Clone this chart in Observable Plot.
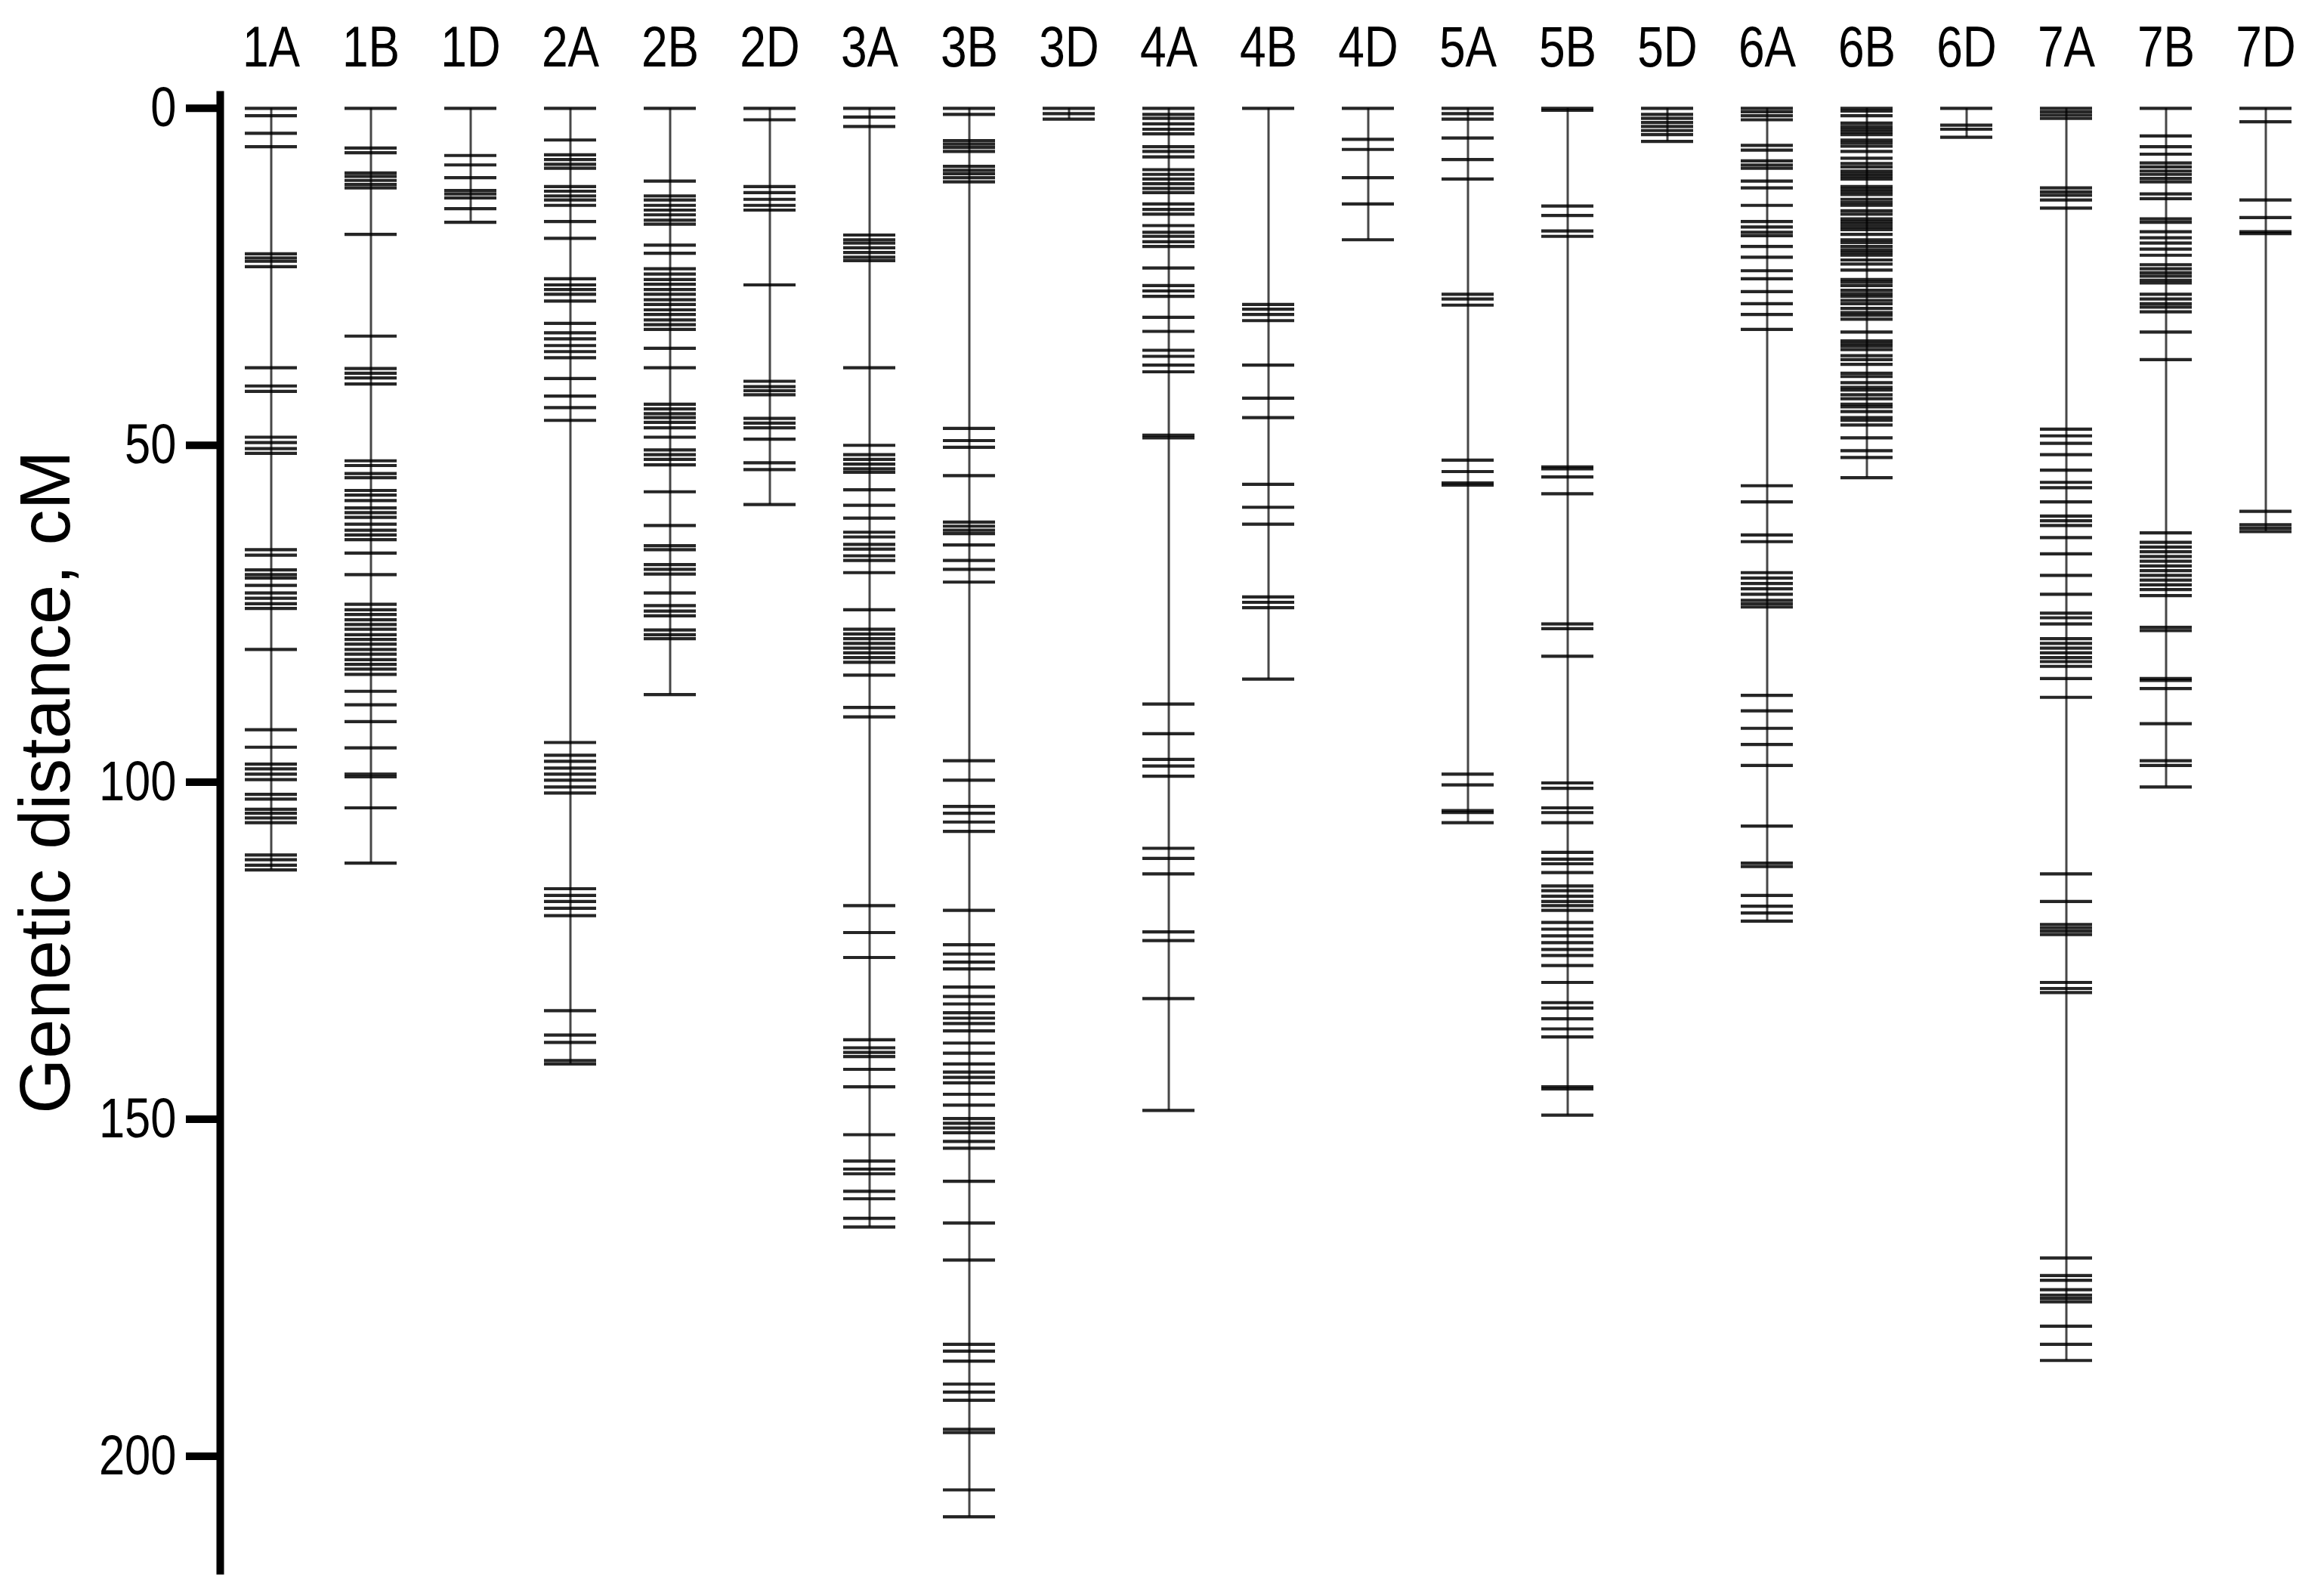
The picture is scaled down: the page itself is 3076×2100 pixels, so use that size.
<!DOCTYPE html>
<html><head><meta charset="utf-8">
<script src="https://cdn.jsdelivr.net/npm/d3@7"></script>
<script src="https://cdn.jsdelivr.net/npm/@observablehq/plot@0.6"></script>
<style>body{margin:0;background:#fff}</style>
</head><body><div id="chart"></div>
<script>
const chromosomes = ["1A","1B","1D","2A","2B","2D","3A","3B","3D","4A","4B","4D","5A","5B","5D","6A","6B","6D","7A","7B","7D"];
const yTicks = [0, 50, 100, 150, 200];
const yTitle = "Genetic distance, cM";

const m1A = [0,1.1,3.7,5.7,21.6,22.2,22.7,23.5,38.5,41.2,42,48.8,49.6,50.5,51.2,65.5,66.3,68.5,69.2,69.7,70.8,71.9,72.7,73.5,74.2,80.3,92.2,94.8,97.3,98,98.8,99.6,101.8,102.5,104,104.6,105.3,106,110.8,111.5,112.3,113];
const m1B = [0,5.9,6.6,9.6,10.1,10.7,11.3,11.8,18.7,33.8,38.6,39.3,40,40.9,52.3,53,54.2,54.8,56.7,57.4,58.2,59.3,60,60.7,61.7,62.6,63.3,64,66,69.2,73.6,74.4,75.1,75.9,76.6,77.3,78.1,78.8,79.5,80.3,81,81.8,82.5,83.2,84,86.5,88.5,91,94.9,98.8,99.2,103.8,112];
const m1D = [0,7,8.4,10.3,12.2,12.7,13.3,14.9,16.9];
const m2A = [0,4.7,6.9,7.6,8.3,8.9,11.6,12.3,13,13.6,14.4,16.8,19.3,25.3,26.2,26.9,27.6,28.6,31.9,33.3,34.2,35.2,36.1,37,40.1,42.7,44.4,46.3,94.1,96,96.9,97.9,98.8,99.7,100.7,101.6,115.8,116.8,117.7,118.7,119.8,133.9,137.5,138.6,141.3,141.8];
const m2B = [0,10.8,13,13.6,14.4,15.1,15.8,16.6,17.2,20.3,21.5,23.8,24.6,25.4,26.1,26.9,27.6,28.4,29.1,29.9,30.6,31.4,32.1,32.8,35.6,38.5,43.9,44.6,45.3,45.9,46.6,47.4,48.8,50.7,51.4,52.1,52.9,56.9,61.9,64.9,65.5,67.7,68.4,69.1,71.9,73.8,74.6,75.3,77.4,78.1,78.7,87];
const m2D = [0,1.7,11.6,12.5,13.5,14.4,15.1,26.2,40.5,41.3,41.9,42.5,46,46.7,47.4,49.1,52.6,53.6,58.8];
const m3A = [0,1.3,2.7,18.8,19.5,20,20.7,21.4,22.1,22.6,38.5,50,51.4,52.1,52.8,53.5,54,56.6,58.9,60.8,62.9,63.6,64.7,65.4,66.4,67.1,68.9,74.4,77.3,78,78.7,79.4,80.1,80.8,81.5,82.2,84.1,88.9,90.3,118.3,122.3,126,138.2,139.4,140.1,140.7,142.6,145.2,152.3,156.2,157.4,158.1,160.7,161.8,164.7,166];
const m3B = [0,0.9,4.8,5.3,5.8,6.4,8.6,9.2,9.7,10.3,10.9,47.5,49.3,50.3,54.5,61.4,62,62.6,63.1,64.8,67.1,68.4,70.3,96.8,99.7,103.6,104.6,105.9,107.3,119,124.1,125.5,126.7,127.7,130.4,131.8,132.9,134.2,135,135.8,136.9,138.7,140.2,141.8,143,143.8,144.6,146.3,147.9,149.9,150.6,151.3,152,153.3,154.3,159.2,165.4,170.9,183.4,184.4,185.9,189.3,190.5,191.7,196,196.5,205,209];
const m3D = [0,0.8,1.6];
const m4A = [0,0.9,1.5,2.3,3.1,3.8,5.7,6.4,7.2,9.1,9.8,10.5,11.2,11.9,12.5,14.2,15,15.7,17.4,18.4,19,19.8,20.5,23.7,26.3,27.1,27.9,31,33.1,35.9,36.8,38.1,39.1,48.5,48.9,88.4,92.8,96.6,97.6,99.1,109.8,111.3,113.6,122.2,123.5,132.1,148.7];
const m4B = [0,29.1,29.8,30.6,31.5,38.1,43,45.9,55.8,59.2,61.7,72.5,73.3,74.1,84.7];
const m4D = [0,4.6,6.1,10.3,14.2,19.5];
const m5A = [0,0.8,1.6,4.4,7.6,10.5,27.6,28.3,29.2,52.2,53.9,55.6,55.9,98.8,100.4,104.2,104.5,106];
const m5B = [0,0.3,14.5,15.9,18.2,19,53.2,53.5,54.7,57.2,76.5,77.2,81.3,100.1,100.9,103.8,104.5,106,110.4,111.4,112.1,113.4,115.4,116.1,116.9,117.7,118.3,119,120.8,121.8,122.8,123.8,124.8,125.7,127.2,129.7,132.7,133.5,135.1,136.6,137.8,145.2,145.5,149.4];
const m5D = [0,0.9,1.5,2.1,2.7,3.3,3.9,4.9];
const m6A = [0,0.5,1.1,1.7,5.5,6.2,7.8,8.4,8.9,10.8,11.8,14.4,16.8,17.6,18.4,18.9,20.5,22.1,24.1,25.3,27.2,29,30.6,32.8,56,58.4,63.3,64.3,68.9,69.7,70.5,71.3,72.1,73,73.5,74,87.1,89.4,92,94.4,97.5,106.5,112,112.5,116.8,118.4,119.4,120.6];
const m6B = [0,0.4,1.1,2.2,2.7,3.1,3.5,3.9,4.7,5.1,5.6,6.4,7.4,8.2,8.7,9.3,9.7,10.1,10.5,11.6,12,12.4,12.8,13.5,14,14.4,15.2,15.7,16.4,16.8,17.2,17.6,18,18.7,19.5,19.9,20.5,21,21.4,21.8,22.5,23.1,24,25.4,25.8,26.3,27,27.5,27.9,28.5,29,29.7,30.3,30.7,31.3,33.2,34.5,34.9,35.3,35.8,36.7,37.3,38,39.3,39.8,40.7,41.4,41.8,42.5,43.1,43.9,44.3,45,45.9,46.3,47,48.9,50.8,51.8,54.8];
const m6D = [0,2.5,3.1,4.3];
const m7A = [0,0.5,1,1.5,11.8,12.4,12.9,13.6,14.8,47.6,48.6,49.7,51.4,53.7,55.5,56.3,58.4,60.5,61.2,61.9,63.7,66.1,69.3,72.1,74.9,75.6,76.5,78.7,79.4,80.1,80.8,81.5,82.1,82.8,84.6,87.4,113.6,117.7,121.1,121.6,122.1,122.6,129.7,130.6,131.2,170.6,173.2,173.9,175.3,176.1,176.6,177.1,180.7,183.4,185.8];
const m7B = [0,4.1,5.7,6.8,8.1,8.7,9.3,9.8,10.4,10.9,12.7,13.4,16.4,16.9,18.3,19.2,20,20.9,21.8,23.2,23.8,24.4,24.9,25.5,25.9,27.6,28.3,29,29.5,30.2,33.2,37.3,63,64.4,65.1,65.8,66.5,67.2,67.9,68.6,69.3,70,70.7,71.4,72.3,77,77.5,84.6,84.9,86.1,91.3,96.8,97.5,100.7];
const m7D = [0,2,13.6,16.2,18.3,18.6,59.8,61.8,62.3,62.8];

const markerSets = [m1A,m1B,m1D,m2A,m2B,m2D,m3A,m3B,m3D,m4A,m4B,m4D,m5A,m5B,m5D,m6A,m6B,m6D,m7A,m7B,m7D];
const markers = chromosomes.flatMap((c, i) => markerSets[i].map(cM => ({chromosome: c, cM})));
const spans = chromosomes.map((c, i) => ({chromosome: c, start: d3.min(markerSets[i]), end: d3.max(markerSets[i])}));

const sans = "'Liberation Sans', Arial, sans-serif";

const chart = Plot.plot({
  width: 3076,
  height: 2100,
  marginLeft: 291,
  marginRight: 10,
  marginTop: 125,
  marginBottom: 22,
  style: {fontFamily: sans, background: "#fff", color: "#000"},
  x: {type: "band", domain: chromosomes, paddingInner: 0.478, paddingOuter: 0.239, axis: null},
  y: {domain: [-2, 217], reverse: true, axis: null},
  marks: [
    Plot.frame({anchor: "left", stroke: "#000", strokeWidth: 10}),
    Plot.axisY({ticks: yTicks, tickSize: 45, tickPadding: 13, strokeWidth: 10, fontSize: 75, label: null, tickFormat: d => String(d)}),
    Plot.axisX({anchor: "top", tickSize: 0, tickPadding: 38, fontSize: 76, label: null}),
    Plot.ruleX(spans, {x: "chromosome", y1: "start", y2: "end", stroke: "#000", strokeOpacity: 0.72, strokeWidth: 3}),
    Plot.tickY(markers, {x: "chromosome", y: "cM", stroke: "#000", strokeWidth: 4.2, strokeOpacity: 0.85}),
    Plot.text([yTitle], {frameAnchor: "left", textAnchor: "middle", rotate: -90, dx: -230, dy: -67, fontSize: 94})
  ]
});
// condensed look of the tick labels (Arial Narrow style)
d3.select(chart).selectAll('g[aria-label="x-axis tick label"] text, g[aria-label="y-axis tick label"] text')
  .attr("transform", function() { return (this.getAttribute("transform") || "") + " scale(0.82,1)"; });
document.getElementById("chart").appendChild(chart);
</script>
</body></html>
